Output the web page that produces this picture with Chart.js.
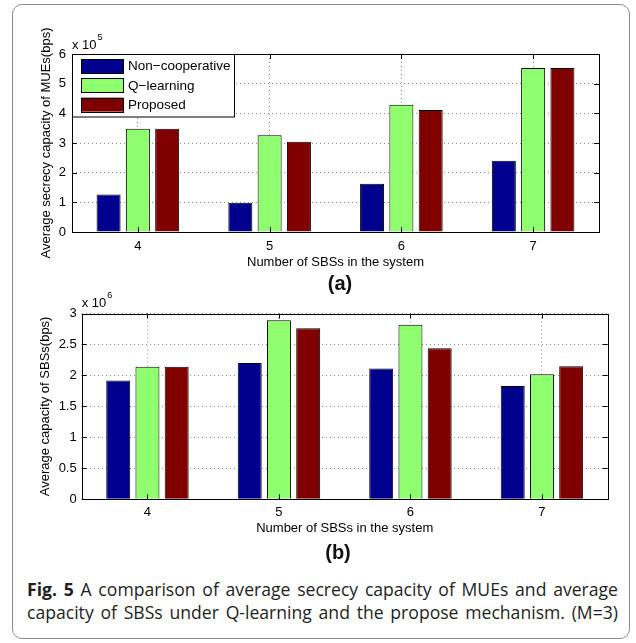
<!DOCTYPE html>
<html>
<head>
<meta charset="utf-8">
<script src="https://cdn.jsdelivr.net/npm/chart.js@4.4.1/dist/chart.umd.min.js"></script>
<style>
  html, body { margin: 0; padding: 0; background: #fff; }
  #page { position: relative; width: 636px; height: 643px; overflow: hidden; font-family: "Liberation Sans", Arial, sans-serif; }
  #frame { position: absolute; left: 12px; top: 4px; width: 618px; height: 635px; border: 1px solid #8c8c8c; border-radius: 10px; box-sizing: border-box; }
  canvas { position: absolute; left: 0; }
  #chartA { top: 0; }
  #chartB { top: 280px; }
  .panel { position: absolute; font-weight: bold; font-size: 20px; color: #111; transform: translate(-50%, -50%); }
  #caption { position: absolute; left: 27px; top: 578px; width: 591px; font-family: "Open Sans", sans-serif; font-size: 17.6px; color: #231f20; }
  #caption .cl { height: 23px; line-height: 23px; text-align: justify; text-align-last: justify; white-space: nowrap; }
</style>
</head>
<body>
<div id="page">
  <div id="frame"></div>
  <canvas id="chartA" width="636" height="280"></canvas>
  <canvas id="chartB" width="636" height="260"></canvas>
  <div class="panel" style="left:340px; top:283px;">(a)</div>
  <div class="panel" style="left:338px; top:552px;">(b)</div>
  <div id="caption">
    <div class="cl"><b>Fig. 5</b> A comparison of average secrecy capacity of MUEs and average</div>
    <div class="cl">capacity of SBSs under Q-learning and the propose mechanism. (M=3)</div>
  </div>
</div>
<script>
// ── Données ────────────────────────────────────────────────────
const categories   = ['4', '5', '6', '7'];
const seriesNames  = ['Non\u2212cooperative', 'Q\u2212learning', 'Proposed'];
const seriesColors = ['#00008f', '#8fff70', '#800000'];

// (a) secrecy capacity of MUEs, in units of 10^5 bps
const mueNonCoop  = [1.26, 0.99, 1.63, 2.40];
const mueQLearn   = [3.48, 3.26, 4.29, 5.53];
const mueProposed = [3.48, 3.04, 4.11, 5.53];
const mueTicks    = [0, 1, 2, 3, 4, 5, 6];

// (b) capacity of SBSs, in units of 10^6 bps
const sbsNonCoop  = [1.92, 2.20, 2.11, 1.83];
const sbsQLearn   = [2.14, 2.89, 2.82, 2.02];
const sbsProposed = [2.14, 2.76, 2.44, 2.15];
const sbsTicks    = [0, 0.5, 1, 1.5, 2, 2.5, 3];

const FONT = '"Liberation Sans", Arial, Helvetica, sans-serif';
const GRID = '#8c8c8c';

// ── Cadre, graduations internes, titre Y, exposant, légende ────
const boxFrame = {
  id: 'boxFrame',
  afterDraw(chart, args, opts) {
    const { ctx, chartArea: a, scales: { x, y } } = chart;
    ctx.save();
    ctx.setLineDash([]);
    ctx.strokeStyle = '#000';
    ctx.lineWidth = 1;

    ctx.beginPath();
    y.ticks.forEach(t => {
      const py = Math.round(y.getPixelForValue(t.value)) + 0.5;
      ctx.moveTo(a.left, py);  ctx.lineTo(a.left + 5, py);
      ctx.moveTo(a.right, py); ctx.lineTo(a.right - 5, py);
    });
    x.ticks.forEach((t, i) => {
      const px = Math.round(x.getPixelForTick(i)) + 0.5;
      ctx.moveTo(px, a.top);    ctx.lineTo(px, a.top + 5);
      ctx.moveTo(px, a.bottom); ctx.lineTo(px, a.bottom - 5);
    });
    ctx.stroke();

    const l = Math.round(a.left) + 0.5, t = Math.round(a.top) + 0.5;
    ctx.strokeRect(l, t, Math.round(a.right) - Math.round(a.left), Math.round(a.bottom) - Math.round(a.top));

    // exposant "x 10^n"
    ctx.fillStyle = '#000';
    ctx.font = '13px ' + FONT;
    ctx.textAlign = 'left';
    ctx.textBaseline = 'middle';
    const ey = a.top + opts.expDy;
    ctx.fillText('x 10', a.left, ey);
    const w = ctx.measureText('x 10').width;
    ctx.font = '9px ' + FONT;
    ctx.fillText(opts.exponent, a.left + w + 1, ey - 7);

    // légende
    if (opts.legend) {
      const lw = 162, lh = 62.5;
      ctx.fillStyle = '#fff';
      ctx.fillRect(l, t, lw, lh);
      ctx.strokeRect(l, t, lw, lh);
      chart.data.datasets.forEach((ds, i) => {
        const cy = a.top + 12 + i * 19.3;
        ctx.fillStyle = ds.backgroundColor;
        ctx.fillRect(a.left + 9, cy - 7, 42, 14);
        ctx.strokeRect(Math.round(a.left + 9) + 0.5, Math.round(cy - 7) + 0.5, 42, 14);
        ctx.fillStyle = '#000';
        ctx.font = '13.5px ' + FONT;
        ctx.fillText(ds.label, a.left + 56, cy + 0.5);
      });
    }

    // titre de l'axe Y
    ctx.fillStyle = '#000';
    ctx.font = '13px ' + FONT;
    ctx.textAlign = 'center';
    ctx.textBaseline = 'middle';
    ctx.translate(opts.yTitleX, (a.top + a.bottom) / 2);
    ctx.rotate(-Math.PI / 2);
    ctx.fillText(opts.yTitle, 0, 0);
    ctx.restore();
  }
};

function datasets(values) {
  return values.map((v, i) => ({
    label: seriesNames[i],
    data: v,
    backgroundColor: seriesColors[i],
    borderColor: '#000',
    borderWidth: 1,
    borderSkipped: 'bottom',
    categoryPercentage: 0.667,
    barPercentage: 0.82,
  }));
}

function makeChart(id, cfg) {
  const tickFont = { size: 13, family: FONT };
  return new Chart(document.getElementById(id), {
    type: 'bar',
    data: { labels: categories, datasets: datasets(cfg.values) },
    options: {
      responsive: false,
      animation: false,
      events: [],
      layout: { padding: cfg.padding },
      plugins: {
        legend: { display: false },
        tooltip: { enabled: false },
        boxFrame: cfg.frame,
      },
      scales: {
        x: {
          type: 'category',
          offset: true,
          grid: { offset: false, color: GRID, drawTicks: false, lineWidth: 1 },
          border: { display: false, dash: [1, 3] },
          ticks: { color: '#000', font: tickFont, padding: cfg.xPad },
          title: { display: true, text: 'Number of SBSs in the system', color: '#000', font: tickFont, padding: 0 },
          afterFit(s) { s.height = cfg.xHeight; },
        },
        y: {
          min: 0,
          max: cfg.ticks[cfg.ticks.length - 1],
          grid: { color: GRID, drawTicks: false, lineWidth: 1 },
          border: { display: false, dash: [1, 3] },
          ticks: { color: '#000', font: tickFont, padding: cfg.yPad, callback: v => String(v) },
          afterBuildTicks(s) { s.ticks = cfg.ticks.map(v => ({ value: v })); },
          afterFit(s) { s.width = cfg.yWidth; },
        },
      },
    },
    plugins: [boxFrame],
  });
}

makeChart('chartA', {
  values: [mueNonCoop, mueQLearn, mueProposed],
  ticks: mueTicks,
  padding: { left: 0, top: 54, right: 37, bottom: 10 },
  yWidth: 72, xHeight: 38, xPad: 7, yPad: 6,
  frame: { legend: true, exponent: '5', expDy: -9, yTitle: 'Average secrecy capacity of MUEs(bps)', yTitleX: 46 },
});

makeChart('chartB', {
  values: [sbsNonCoop, sbsQLearn, sbsProposed],
  ticks: sbsTicks,
  padding: { left: 0, top: 33.5, right: 28.3, bottom: 4.2 },
  yWidth: 81.7, xHeight: 36.5, xPad: 5, yPad: 5,
  frame: { legend: false, exponent: '6', expDy: -10.5, yTitle: 'Average capacity of SBSs(bps)', yTitleX: 45 },
});
</script>
</body>
</html>
